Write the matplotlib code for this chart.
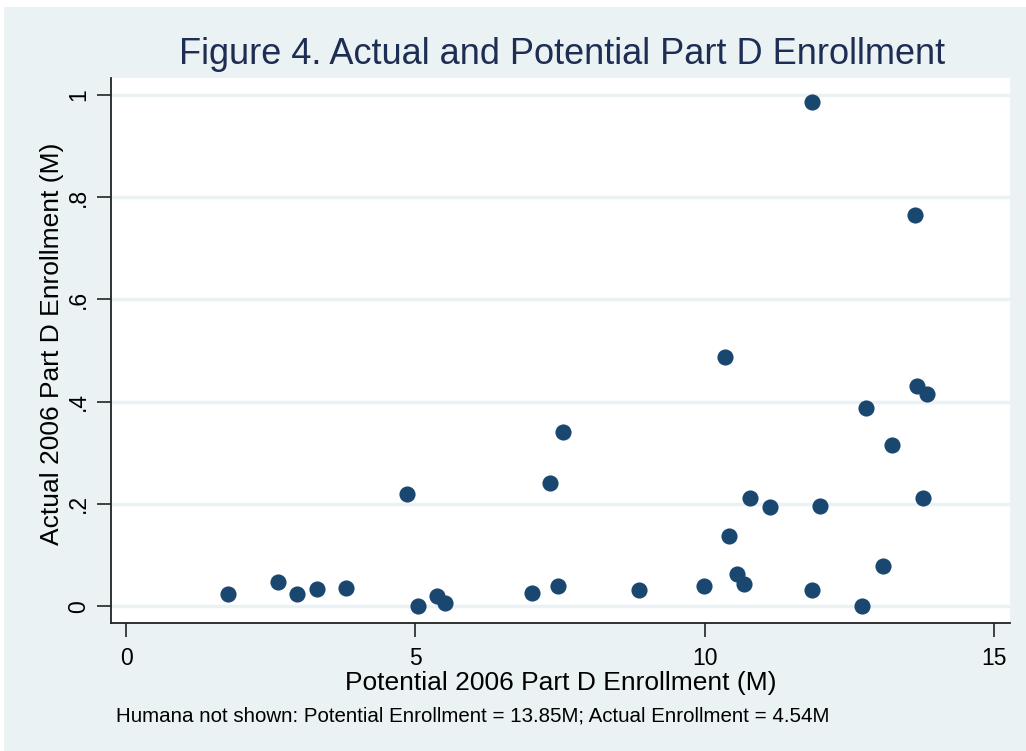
import numpy as np
import matplotlib.pyplot as plt
from matplotlib.patches import Rectangle

plt.rcParams['font.family'] = ['Liberation Sans', 'DejaVu Sans']

# potential vs actual 2006 Part D enrollment (millions)
potential = [1.76, 2.63, 2.95, 3.30, 3.80, 4.86, 5.05, 5.37, 5.51, 7.02,
             7.33, 7.47, 7.55, 8.86, 9.99, 10.35, 10.42, 10.56, 10.68, 10.78,
             11.13, 11.85, 11.85, 11.99, 12.72, 12.79, 13.08, 13.24, 13.63,
             13.67, 13.84, 13.77]
actual = [0.023, 0.047, 0.023, 0.033, 0.035, 0.219, 0.0, 0.020, 0.006, 0.025,
          0.241, 0.039, 0.341, 0.031, 0.039, 0.487, 0.137, 0.063, 0.043, 0.211,
          0.194, 0.986, 0.031, 0.196, 0.0, 0.387, 0.078, 0.315, 0.765,
          0.431, 0.415, 0.211]

xticks = [0, 5, 10, 15]
yticks = [0, 0.2, 0.4, 0.6, 0.8, 1.0]
ylabels = ['0', '.2', '.4', '.6', '.8', '1']

bg = '#eaf2f3'
navy = '#1a476f'

fig = plt.figure(figsize=(10.26, 7.51), dpi=100, facecolor='white')
fig.patches.append(Rectangle((4/1026, 0), 1, 744/751, transform=fig.transFigure,
                             facecolor=bg, edgecolor='none', zorder=-10))

ax = fig.add_axes([111/1026, 1 - 623/751, 899/1026, 545/751])
ax.set_facecolor('white')

ax.scatter(potential, actual, s=135, color=navy, zorder=3, linewidths=0)

ax.set_xlim(-0.26, 15.27)
ax.set_ylim(-0.033, 1.033)
ax.set_xticks(xticks)
ax.set_xticklabels([str(t) for t in xticks])
ax.set_yticks(yticks)
ax.set_yticklabels(ylabels, rotation=90, va='center')
ax.grid(axis='y', color=bg, linewidth=2.5, zorder=0)
ax.set_axisbelow(True)

for s in ['top', 'right']:
    ax.spines[s].set_visible(False)
for s in ['left', 'bottom']:
    ax.spines[s].set_color('#222222')
    ax.spines[s].set_linewidth(1.3)
ax.tick_params(axis='both', length=10, width=1.3, color='#333333', labelsize=16.5)
ax.tick_params(axis='y', pad=5)
ax.tick_params(axis='x', pad=7)

fig.text(561/1026, 1 - 683/751, 'Potential 2006 Part D Enrollment (M)',
         fontsize=19, ha='center', va='center')
fig.text(52/1026, 1 - 344/751, 'Actual 2006 Part D Enrollment (M)',
         fontsize=19, ha='center', va='center', rotation=90)

fig.text(562/1026, 1 - 55/751, 'Figure 4. Actual and Potential Part D Enrollment',
         fontsize=26, color='#1e2d53', ha='center', va='center')
fig.text(116/1026, 1 - 716/751,
         'Humana not shown: Potential Enrollment = 13.85M; Actual Enrollment = 4.54M',
         fontsize=14.8, ha='left', va='center')

fig.savefig('out.png', dpi=100, facecolor=fig.get_facecolor())
